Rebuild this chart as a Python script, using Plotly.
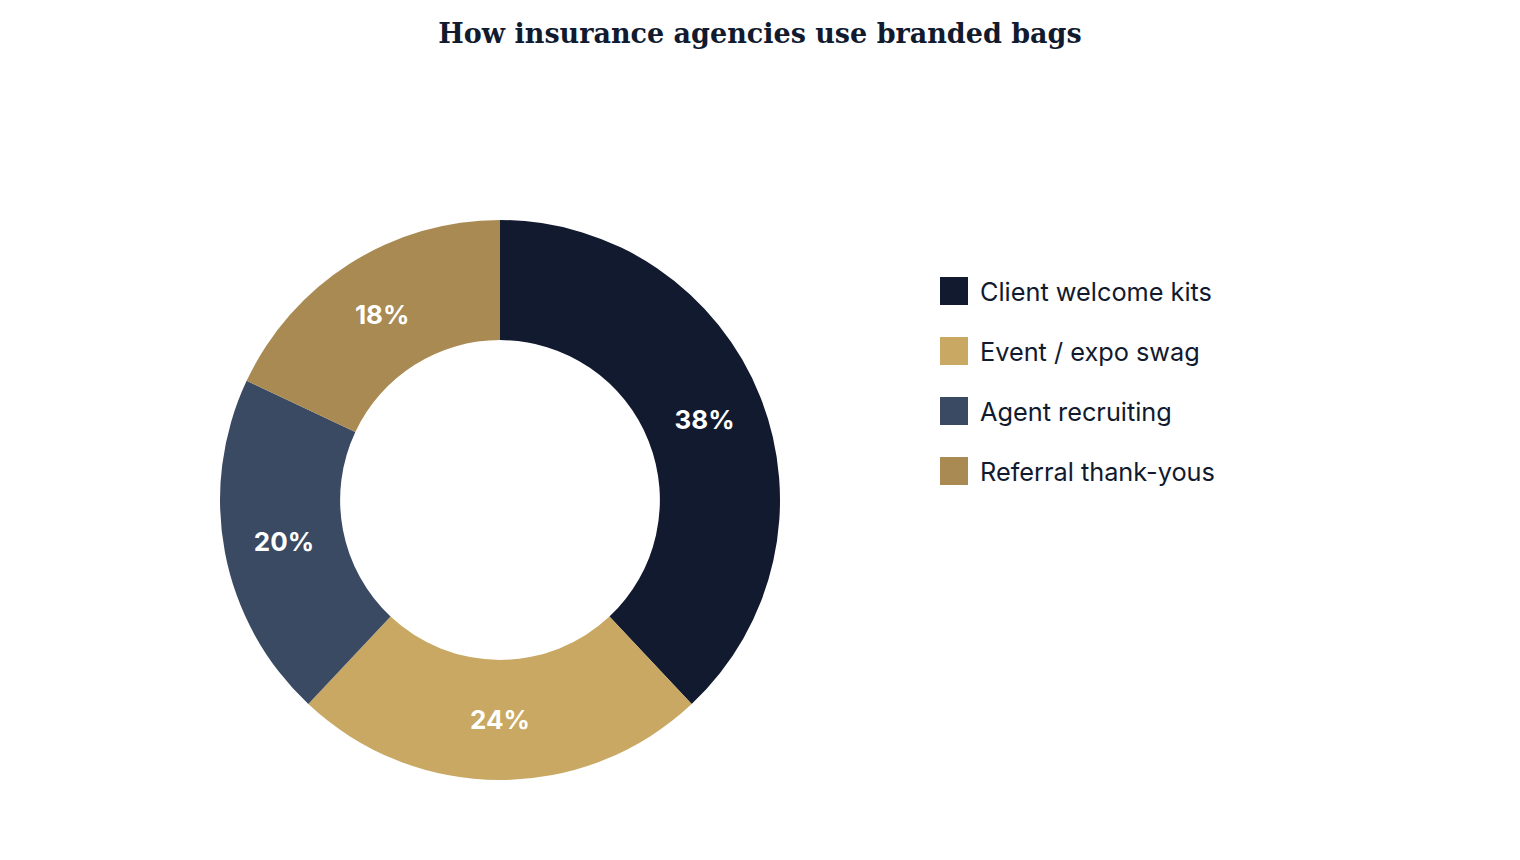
import plotly.graph_objects as go

# Data.
labels = ['Client welcome kits', 'Event / expo swag', 'Agent recruiting', 'Referral thank-yous']
shares = [38, 24, 20, 18]
colors = ['#111a2e', '#c8a862', '#3a4a63', '#a88a52']

W, H = 1520, 860
OFF = 8  # page body margin

fig = go.Figure()

fig.add_trace(
	go.Pie(
		labels=labels,
		values=shares,
		hole=0.571,
		sort=False,
		direction='clockwise',
		rotation=0,
		marker=dict(colors=colors, line=dict(width=0)),
		texttemplate='%{value}%',
		textposition='inside',
		insidetextorientation='horizontal',
		insidetextfont=dict(family='Inter', size=26, color='white', weight='bold'),
		domain=dict(x=[(220 - OFF) / W, (780 - OFF) / W], y=[1 - (780 - OFF) / H, 1 - (220 - OFF) / H]),
		showlegend=False,
	)
)

# Legend drawn by hand so the swatches can be large squares.
shapes = []
annotations = []
for i, (lab, col) in enumerate(zip(labels, colors)):
	yc = 291 + 60 * i - OFF
	shapes.append(dict(
		type='rect', xref='paper', yref='paper',
		x0=(940 - OFF) / W, x1=(968 - OFF) / W, y0=1 - (yc + 14) / H, y1=1 - (yc - 14) / H,
		fillcolor=col, line=dict(width=0),
	))
	annotations.append(dict(
		text=lab, xref='paper', yref='paper',
		x=(978 - OFF) / W, y=1 - yc / H, xanchor='left', yanchor='middle',
		showarrow=False, font=dict(family='Inter', size=25.3, color='#111a2e'),
	))

fig.update_layout(
	width=W,
	height=H,
	margin=dict(l=0, r=0, t=0, b=0),
	paper_bgcolor='white',
	plot_bgcolor='white',
	title=dict(
		text='<b>How insurance agencies use branded bags</b>',
		x=(760 - OFF) / W, xanchor='center', y=1 - (34 - OFF) / H, yanchor='middle',
		font=dict(family='DejaVu Serif', size=27, color='#111a2e'),
	),
	shapes=shapes,
	annotations=annotations,
)

fig.write_html('out.html')
